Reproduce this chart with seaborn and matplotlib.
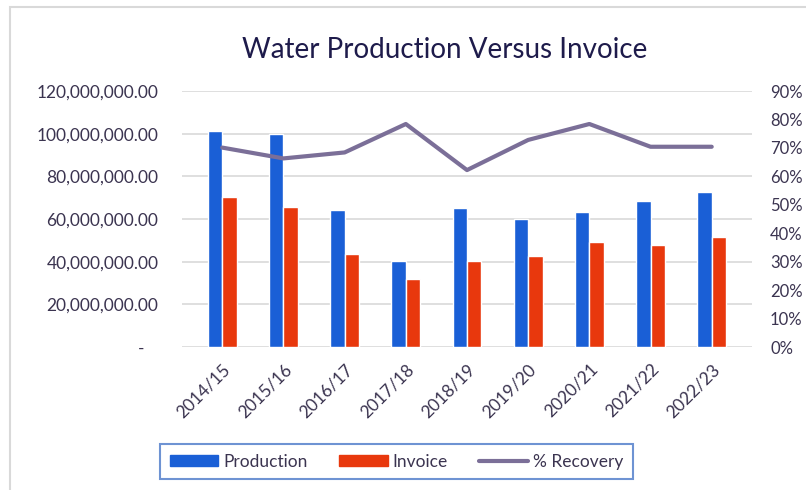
import matplotlib
matplotlib.use("Agg")
import matplotlib.pyplot as plt
import matplotlib.patches as mpatches
from matplotlib.lines import Line2D
from matplotlib.ticker import FuncFormatter, MultipleLocator
import seaborn as sns
import pandas as pd

years = ["2014/15", "2015/16", "2016/17", "2017/18", "2018/19",
         "2019/20", "2020/21", "2021/22", "2022/23"]
production = [101.4e6, 99.8e6, 64.2e6, 40.3e6, 65.0e6, 60.1e6, 63.3e6, 68.3e6, 72.8e6]
invoice = [70.5e6, 65.8e6, 43.6e6, 31.7e6, 40.3e6, 42.8e6, 49.2e6, 47.7e6, 51.6e6]
recovery = [70.1, 66.3, 68.4, 78.4, 62.2, 72.8, 78.4, 70.4, 70.4]

c_prod = "#1a5fd6"
c_inv = "#e8380d"
c_line = "#7b6f98"
c_text = "#3b3450"

sns.set_style("white")
plt.rcParams["font.family"] = ["Lato", "DejaVu Sans"]

df = pd.DataFrame({
    "Year": years * 2,
    "Value": production + invoice,
    "Series": ["Production"] * len(years) + ["Invoice"] * len(years),
})
dfl = pd.DataFrame({"Year": years, "Recovery": recovery})

fig = plt.figure(figsize=(8.06, 4.90), dpi=100)
ax = fig.add_axes([182 / 806, 1 - 347 / 490, 570 / 806, 256 / 490])

sns.barplot(data=df, x="Year", y="Value", hue="Series",
            palette={"Production": c_prod, "Invoice": c_inv},
            width=0.47, gap=0, ax=ax, legend=False, saturation=1)
ax.set_ylim(0, 120e6)
ax.yaxis.set_major_locator(MultipleLocator(20e6))
ax.yaxis.set_major_formatter(FuncFormatter(lambda v, p: "-   " if v == 0 else f"{v:,.2f}"))
ax.grid(axis="y", color="#d9d9d9", linewidth=1.2)
ax.set_axisbelow(True)
for s in ax.spines.values():
    s.set_visible(False)
ax.set_xlabel("")
ax.set_ylabel("")
ax.tick_params(axis="y", length=0, pad=17, labelsize=12.5, labelcolor=c_text)
ax.tick_params(axis="x", length=0, pad=10, labelsize=12.5, labelcolor=c_text)
for lab in ax.get_xticklabels():
    lab.set_rotation(45)
    lab.set_ha("right")
    lab.set_rotation_mode("anchor")

ax2 = ax.twinx()
sns.lineplot(data=dfl, x="Year", y="Recovery", color=c_line, linewidth=3, ax=ax2,
             sort=False)
ax2.set_ylim(0, 90)
ax2.yaxis.set_major_locator(MultipleLocator(10))
ax2.yaxis.set_major_formatter(FuncFormatter(lambda v, p: f"{v:.0f}%"))
ax2.tick_params(axis="y", length=0, pad=13, labelsize=12, labelcolor=c_text)
ax2.set_ylabel("")
ax2.grid(False)
for s in ax2.spines.values():
    s.set_visible(False)

fig.text(445 / 806, 1 - 50 / 490, "Water Production Versus Invoice",
         ha="center", va="center", fontsize=20, color="#1e1b4b")

handles = [
    mpatches.Patch(color=c_prod, label="Production"),
    mpatches.Patch(color=c_inv, label="Invoice"),
    Line2D([0], [0], color=c_line, linewidth=3, label="% Recovery"),
]
leg = fig.legend(handles=handles, loc="center", bbox_to_anchor=(396.5 / 806, 1 - 461.5 / 490),
                 ncol=3, frameon=True, fancybox=False, fontsize=12.5,
                 handlelength=2.8, handleheight=0.55, handletextpad=0.3, columnspacing=1.8,
                 borderpad=0.55, borderaxespad=0)
leg.get_frame().set_edgecolor("#4a78c8")
leg.get_frame().set_linewidth(1.5)
for t in leg.get_texts():
    t.set_color(c_text)

fig.add_artist(mpatches.Rectangle((10 / 806, -0.1), 1.2, 1 - 7 / 490 + 0.1,
                                  transform=fig.transFigure, fill=False,
                                  edgecolor="#d9d9d9", linewidth=1.5))

fig.savefig("out.png", dpi=100)
